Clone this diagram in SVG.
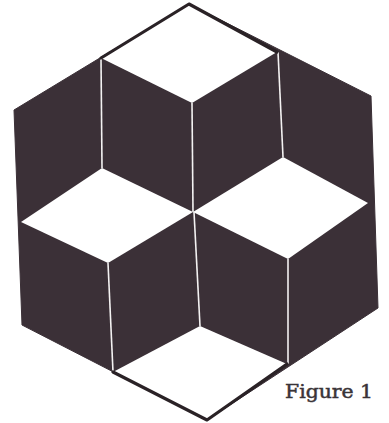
<svg xmlns="http://www.w3.org/2000/svg" width="389" height="423" viewBox="0 0 389 423">
<style>
.dark{fill:#3b3037;stroke:#3b3037;stroke-width:1;stroke-linejoin:round}
.face{fill:#ffffff}
.seam{stroke:#f4f2f2;stroke-width:1.6;fill:none}
.edge{stroke:#2a2226;stroke-width:3.2;fill:none;stroke-linejoin:round;stroke-linecap:round}
.label{font-family:"DejaVu Serif","Liberation Serif",serif;font-size:19px;fill:#3a3438;stroke:#3a3438;stroke-width:0.5}
</style>
<rect width="389" height="423" fill="#ffffff"/>
<g id="hexagon">
<polygon class="dark" points="189,4 371,96 378,308 207,420 22,325 14,110"/>
</g>
<g id="faces">
<polygon id="top-face" class="face" points="189,4 277,52 192,103 101,58"/>
<polygon id="left-face" class="face" points="102,168 193,212 108,263 21,222"/>
<polygon id="right-face" class="face" points="283,157 368,203 288,259 193,212"/>
<polygon id="bottom-face" class="face" points="200,326 287,364 207,420 113,372"/>
</g>
<g id="seams">
<line class="seam" x1="101" y1="58" x2="102" y2="168"/>
<line class="seam" x1="192" y1="103" x2="193" y2="212"/>
<line class="seam" x1="278" y1="52" x2="283" y2="157"/>
<line class="seam" x1="108" y1="263" x2="113" y2="372"/>
<line class="seam" x1="194" y1="212" x2="200" y2="326"/>
<line class="seam" x1="288" y1="259" x2="288" y2="364"/>
</g>
<g id="outlines">
<polyline class="edge" points="101,58 189,4 277,52"/>
<polyline class="edge" points="113,372 207,420 287,364"/>
</g>
<text class="label" x="285" y="398" textLength="88" lengthAdjust="spacingAndGlyphs">Figure 1</text>
</svg>
